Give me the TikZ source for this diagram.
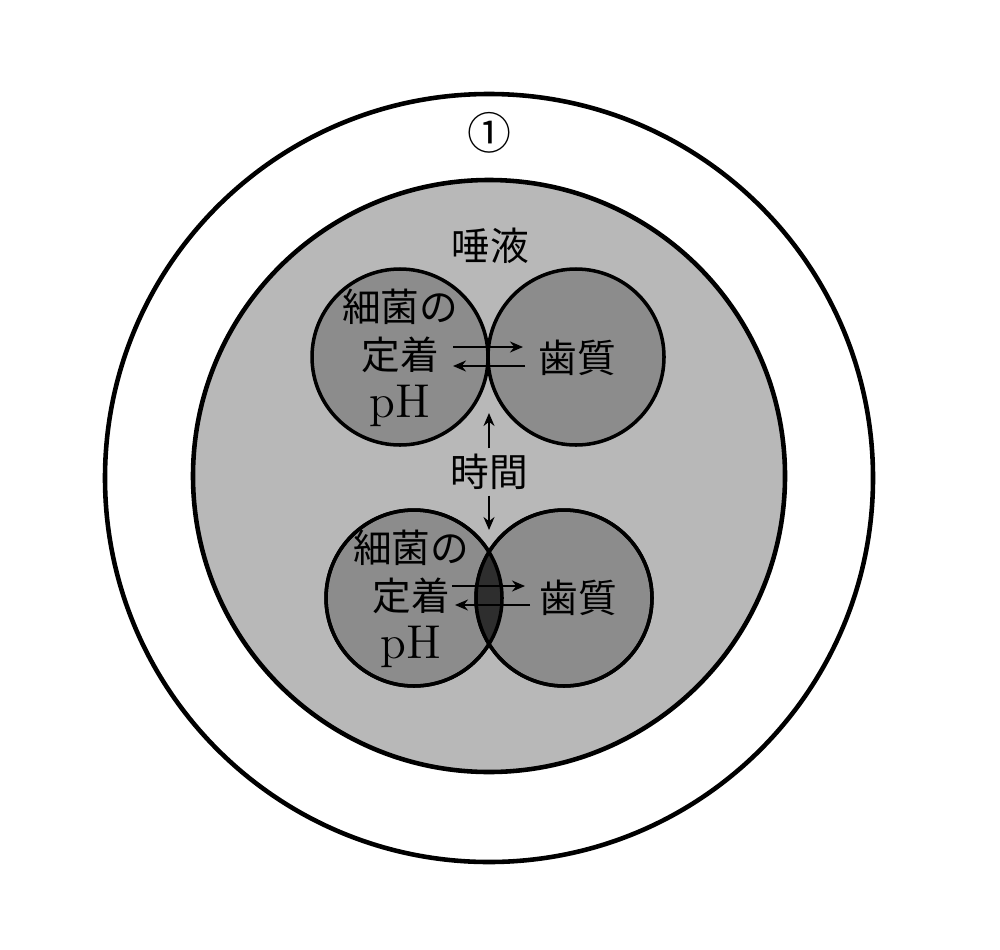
\documentclass[tikz,border=0pt]{standalone}
\usepackage{fontspec}
\newfontfamily\jpfont{Noto Sans CJK JP}
\usetikzlibrary{arrows.meta}
\definecolor{salivagray}{gray}{0.72}
\definecolor{toothgray}{gray}{0.55}
\definecolor{lensgray}{gray}{0.18}
\newcommand{\phtext}{{\rmfamily\fontsize{13.5}{13.6}\selectfont pH}}
\tikzset{
  txt/.style={font=\jpfont\fontsize{11}{13.6}\selectfont, align=center, inner sep=0pt},
  flow/.style={-{Stealth[length=1.3mm,width=1.1mm]}, line width=0.55pt},
  disc/.style={draw, fill=toothgray, line width=1pt}
}
\begin{document}
\begin{tikzpicture}
	\useasboundingbox (0,0) rectangle (10,9.49);
	\coordinate (ul) at (4.00,5.92);
	\coordinate (ur) at (5.76,5.92);
	\coordinate (ll) at (4.14,3.51);
	\coordinate (lr) at (5.64,3.51);
	% mouth and saliva
	\draw[line width=1.3pt] (4.89,4.71) circle (3.84);
	\draw[line width=1.3pt, fill=salivagray] (4.89,4.73) circle (2.96);
	\node[txt, font=\jpfont\fontsize{12.5}{14}\selectfont] (num) at (4.89,8.16) {①};
	\node[txt] (saliva) at (4.90,7.03) {唾液};
	% upper pair
	\draw[disc] (ul) circle (0.88);
	\draw[disc] (ur) circle (0.88);
	\node[txt] (bactUp) at (4.00,5.91) {細菌の\\定着\\\phtext};
	\node[txt] (toothUp) at (5.77,5.91) {歯質};
	\coordinate (ua1) at (4.53,6.02); \coordinate (ua2) at (5.23,6.02);
	\coordinate (ub1) at (5.25,5.83); \coordinate (ub2) at (4.53,5.83);
	\draw[flow] (ua1) -- (ua2);
	\draw[flow] (ub1) -- (ub2);
	% lower pair, overlapping
	\draw[disc] (ll) circle (0.88);
	\draw[disc] (lr) circle (0.88);
	\begin{scope}
		\clip (ll) circle (0.88);
		\fill[lensgray] (lr) circle (0.88);
	\end{scope}
	\draw[line width=1pt] (ll) circle (0.88) (lr) circle (0.88);
	\node[txt] (bactLow) at (4.11,3.50) {細菌の\\定着\\\phtext};
	\node[txt] (toothLow) at (5.78,3.51) {歯質};
	\coordinate (la1) at (4.52,3.63); \coordinate (la2) at (5.25,3.63);
	\coordinate (lb1) at (5.30,3.44); \coordinate (lb2) at (4.55,3.44);
	\draw[flow] (la1) -- (la2);
	\draw[flow] (lb1) -- (lb2);
	% time
	\node[txt] (time) at (4.89,4.77) {時間};
	\coordinate (tUp) at (4.89,5.36);
	\coordinate (tDown) at (4.89,4.19);
	\draw[flow, shorten <=0.05cm] (time) -- (tUp);
	\draw[flow, shorten <=0.05cm] (time) -- (tDown);
\end{tikzpicture}
\end{document}
